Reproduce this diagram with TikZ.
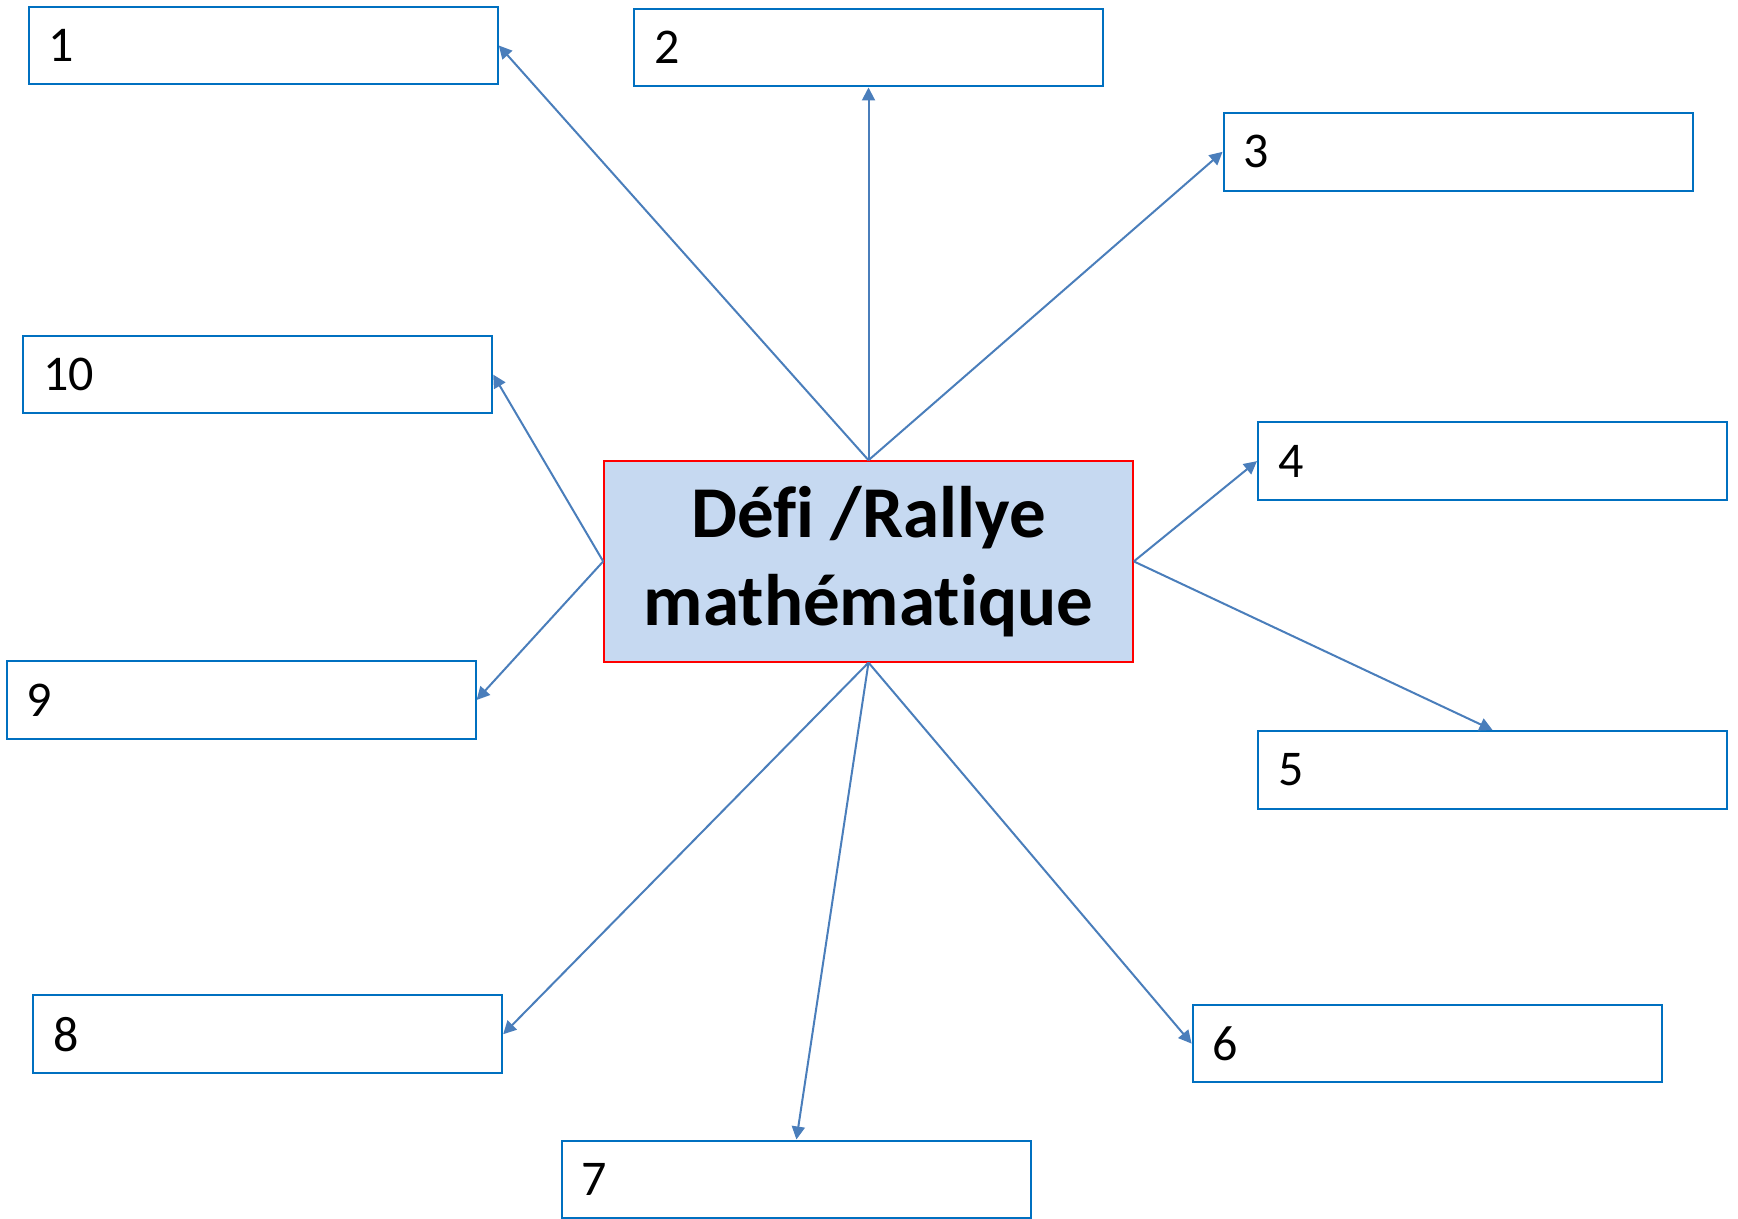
\documentclass[tikz,border=0pt]{standalone}
\usepackage{fontspec}
\setmainfont{Carlito}[Ligatures=NoCommon]
\usetikzlibrary{arrows.meta}
\definecolor{leafedge}{HTML}{0070C0}
\definecolor{linkblue}{HTML}{4A7EBB}
\definecolor{hubfill}{HTML}{C6D9F1}
\definecolor{hubedge}{HTML}{FF0000}

\begin{document}
\begin{tikzpicture}[x=0.5pt,y=-0.5pt,
  leaf/.style={draw=leafedge,line width=1pt,minimum height=38.8pt,text width=214.5pt,inner xsep=10pt,align=left,font=\fontsize{25}{30}\selectfont},
  hub/.style={draw=hubedge,fill=hubfill,line width=0.9pt,minimum width=264.4pt,minimum height=100.3pt,align=center,font=\fontsize{36.5}{44}\selectfont\bfseries},
  link/.style={linkblue,line width=1pt,-{Triangle[length=6.5pt,width=6.5pt]}}]
\useasboundingbox (0,0) rectangle (1738,1219);
\node[hub] (hub) at (868.5,561.4) {Défi /Rallye\\mathématique};
\node[leaf] (b1) at (263.3,45.5) {1};
\node[leaf] (b2) at (868.5,47.7) {2};
\node[leaf] (b3) at (1458.1,151.8) {3};
\node[leaf] (b4) at (1492.5,461.1) {4};
\node[leaf] (b5) at (1492.5,769.8) {5};
\node[leaf] (b6) at (1427.1,1043.6) {6};
\node[leaf] (b7) at (796.4,1179.3) {7};
\node[leaf] (b8) at (267.7,1034.2) {8};
\node[leaf] (b9) at (241.1,700) {9};
\node[leaf] (b10) at (257.7,374.6) {10};
\draw[link] (hub.north) -- (b1.east);
\draw[link] (hub.north) -- (b2.south);
\draw[link] (hub.north) -- (b3.west);
\draw[link] (hub.east) -- (b4.west);
\draw[link] (hub.east) -- (b5.north);
\draw[link] (hub.south) -- (b6.west);
\draw[link] (hub.south) -- (b7.north);
\draw[link] (hub.south) -- (b8.east);
\draw[link] (hub.west) -- (b9.east);
\draw[link] (hub.west) -- (b10.east);
\end{tikzpicture}
\end{document}
